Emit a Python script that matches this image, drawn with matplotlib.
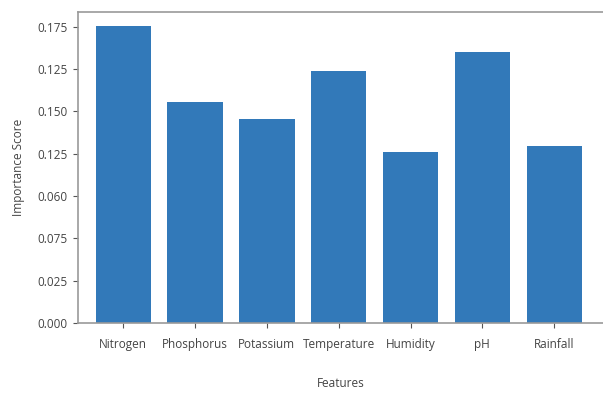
import numpy as np
import matplotlib.pyplot as plt

features = ["Nitrogen", "Phosphorus", "Potassium", "Temperature", "Humidity", "pH", "Rainfall"]
importance = [0.1755, 0.1306, 0.1206, 0.1489, 0.101, 0.160, 0.1046]

# tick labels as printed on the original (not in order)
ytick_vals = [0.0, 0.025, 0.05, 0.075, 0.1, 0.125, 0.15, 0.175]
ytick_text = ["0.000", "0.025", "0.075", "0.060", "0.125", "0.150", "0.125", "0.175"]

plt.rcParams['font.family'] = ['Open Sans', 'DejaVu Sans']

fig = plt.figure(figsize=(6.03, 3.97), dpi=100)
ax = fig.add_axes([78/603, 74/397, 525/603, 311/397])

x = np.arange(len(features))
ax.bar(x, importance, width=0.77, color='#3279b9')

ax.set_xlim(-0.63, 6.68)
ax.set_ylim(0, 0.1838)
ax.set_xticks(x)
ax.set_xticklabels(features)
ax.set_yticks(ytick_vals)
ax.set_yticklabels(ytick_text)

ax.spines['right'].set_visible(False)
for s in ['left', 'bottom', 'top']:
    ax.spines[s].set_color('#999999')
    ax.spines[s].set_linewidth(1.2)
ax.tick_params(colors='#555555', labelsize=8.5, length=3.5, width=0.8)
ax.tick_params(axis='x', pad=7)
ax.tick_params(axis='y', pad=4)
for lbl in ax.get_xticklabels() + ax.get_yticklabels():
    lbl.set_color('#444444')

ax.set_xlabel("Features", fontsize=8.5, color='#444444', labelpad=19)
ax.set_ylabel("Importance Score", fontsize=8.5, color='#444444', labelpad=9)

fig.savefig("out.png", dpi=100)
